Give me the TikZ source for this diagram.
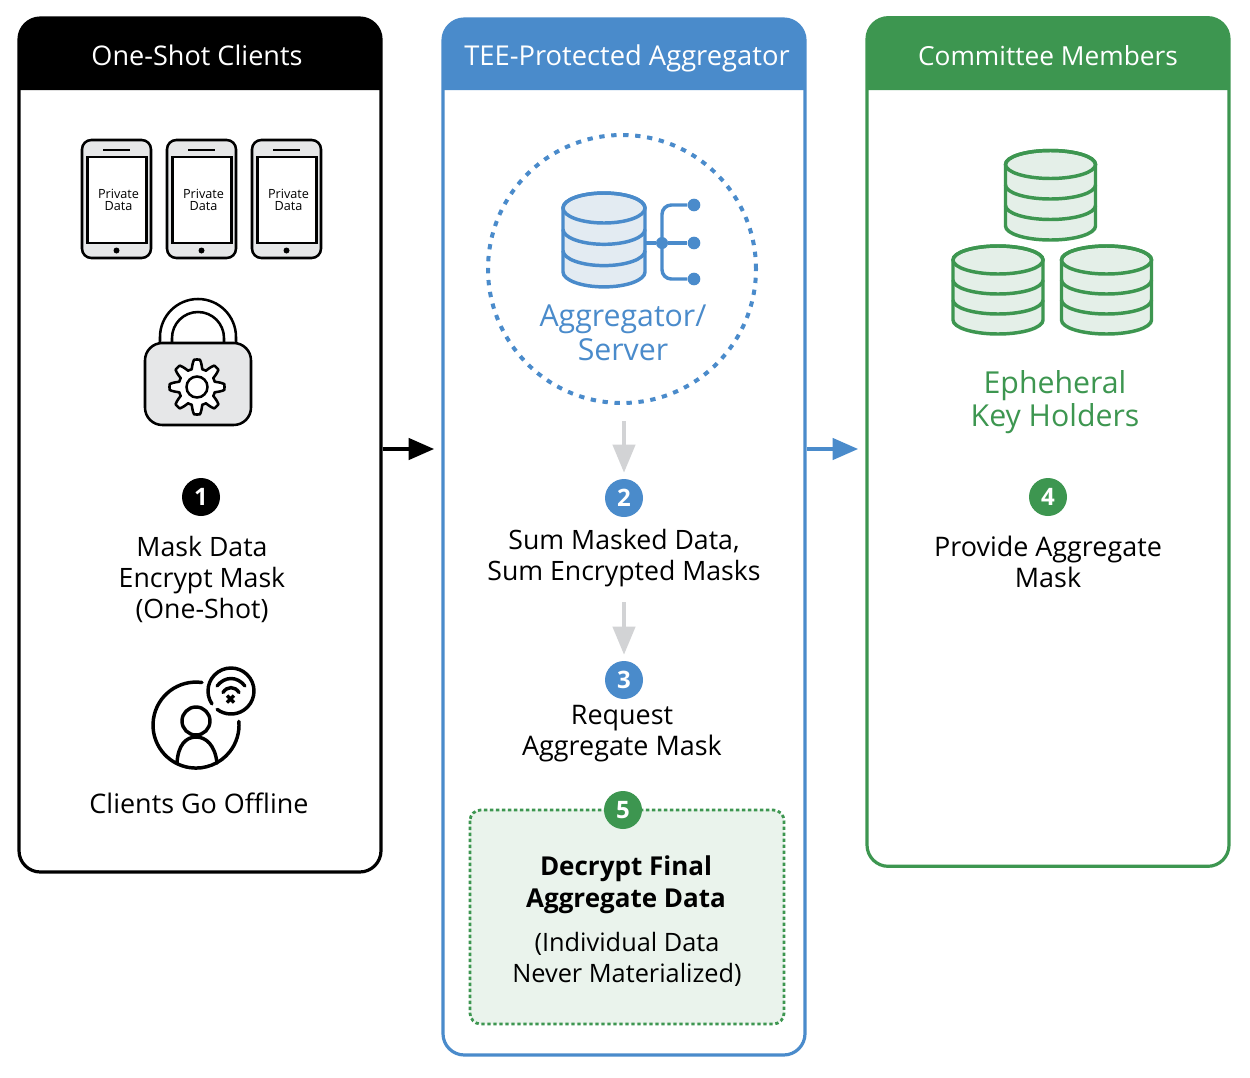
\documentclass[tikz,border=0pt]{standalone}
\usepackage{fontspec}
\setmainfont{Open Sans}
\usetikzlibrary{arrows.meta}
\definecolor{cblue}{HTML}{4A8BCB}
\definecolor{cgreen}{HTML}{3D9650}
\definecolor{cgreenpale}{HTML}{E4EFE8}
\definecolor{cbluepale}{HTML}{E3EBF2}
\definecolor{cgreenbox}{HTML}{EAF3EC}
\definecolor{cgrayfill}{HTML}{E6E7E8}
\definecolor{carrowgray}{HTML}{D2D3D5}
\tikzset{
  panel/.style={draw=#1,line width=2.4pt,rounded corners=16pt,fill=white,minimum width=271.5pt,inner sep=0pt},
  headtext/.style={text=white,font=\fontsize{20.3}{23}\selectfont,inner sep=0pt,anchor=base},
  body/.style={align=center,inner sep=0pt,font=\fontsize{20}{23.25}\selectfont},
  badge/.style={circle,fill=#1,text=white,inner sep=0pt,minimum size=28.5pt,font=\fontsize{18}{20}\bfseries\selectfont},
  icontxt/.style={align=center,inner sep=0pt,font=\fontsize{22.7}{25.2}\selectfont,text=#1},
  flow/.style={draw=#1,line width=2.4pt,-{Triangle[length=19pt,width=16pt]},shorten >=5.5pt},
  down/.style={draw=carrowgray,line width=3pt,-{Triangle[length=21pt,width=16.5pt]},shorten >=4.5pt},
  ink/.style={draw=black,line width=1.9pt},
  thick ink/.style={draw=black,line width=2.6pt,line cap=round},
  link/.style={draw=cblue,line width=2.6pt},
}
\newcommand{\drawphone}[1]{%
  \draw[ink,fill=cgrayfill,rounded corners=7pt] (#1+1,140) rectangle ++(69,118);
  \draw[ink,fill=white] (#1+6.5,157) rectangle ++(59,86);
  \draw[ink] (#1+22,150) -- ++(27,0);
  \fill (#1+35.5,250.5) circle[radius=3];
}
\newcommand{\drawcyl}[6]{%
  \draw[draw=#6,line width=2.6pt,fill=#6pale,line join=round]
    (#1-#3,#2) -- (#1-#3,#2+3*#5) arc[start angle=180,end angle=0,x radius=#3,y radius=#4]
    -- (#1+#3,#2) arc[start angle=0,end angle=-180,x radius=#3,y radius=#4] -- cycle;
  \draw[draw=#6,line width=2.6pt] (#1,#2) ellipse[x radius=#3,y radius=#4];
  \draw[draw=#6,line width=2.6pt] (#1-#3,#2+#5) arc[start angle=180,end angle=0,x radius=#3,y radius=#4];
  \draw[draw=#6,line width=2.6pt] (#1-#3,#2+2*#5) arc[start angle=180,end angle=0,x radius=#3,y radius=#4];
}
\begin{document}
\begin{tikzpicture}[x=0.75pt,y=-0.75pt]
\useasboundingbox (0,0) rectangle (1250,1078);
% panels
\node[panel=black,minimum height=640.5pt] (p1) at (200,445) {};
\node[panel=cblue,minimum height=777pt] (p2) at (624,537) {};
\node[panel=cgreen,minimum height=636.5pt] (p3) at (1048,442) {};
% headers
\fill[black] (19,90) {[rounded corners=16pt] -- (19,18) -- (381,18)} -- (381,90) -- cycle;
\fill[cblue] (443,90) {[rounded corners=16pt] -- (443,19) -- (805,19)} -- (805,90) -- cycle;
\fill[cgreen] (867,90) {[rounded corners=16pt] -- (867,18) -- (1229,18)} -- (1229,90) -- cycle;
\node[headtext] (h1) at (197,65.5) {One-Shot Clients};
\node[headtext,font=\fontsize{20.5}{23}\selectfont] (h2) at (627,65.5) {TEE-Protected Aggregator};
\node[headtext,font=\fontsize{19.7}{23}\selectfont] (h3) at (1048,65.5) {Committee Members};
% flow arrows
\coordinate (flowy) at (0,449);
\draw[flow=black] (p1.east |- flowy) -- (p2.west |- flowy);
\draw[flow=cblue] (p2.east |- flowy) -- (p3.west |- flowy);
% phones
\drawphone{81}\drawphone{166}\drawphone{251}
\foreach \n/\x in {a/118.5,b/203.5,c/288.5}
  \node[align=center,inner sep=0pt,font=\fontsize{9.5}{9}\selectfont] (pd\n) at (\x,199.5) {Private\\Data};
% lock
\draw[ink,fill=white] (160,345) -- (160,337) arc[start angle=180,end angle=360,radius=38] -- (236,345);
\draw[ink] (172,345) -- (172,338) arc[start angle=180,end angle=360,radius=26] -- (224,345);
\draw[ink,fill=cgrayfill,rounded corners=13pt] (145,343) rectangle (251,425);
\begin{scope}[shift={(197,387)}]
\draw[ink,fill=white,line join=round] plot[domain=0:360,samples=241,smooth] (\x:{23+4.5*max(min(1.5*cos(8*\x),1),-1)}) -- cycle;
\draw[ink,fill=white] (0,0) circle[radius=10.5];
\end{scope}
% step 1
\node[badge=black] (b1) at (201,497) {1};
\node[body] (t1) at (202,579) {Mask Data\\Encrypt Mask\\(One-Shot)};
% offline icon
\draw[thick ink] (202,682.5) arc[start angle=278,end angle=-5,radius=43];
\draw[thick ink] (196,721) circle[radius=14];
\draw[thick ink] (177,763) .. controls (178,745) and (186,737) .. (196,737) .. controls (206,737) and (215,745) .. (217,763);
\draw[thick ink] (231,691) ++(146:23) arc[start angle=146,end angle=487,radius=23];
\draw[thick ink] (217,686) .. controls (225,676) and (237,676) .. (245,686);
\draw[thick ink] (223,692.5) .. controls (227,686) and (235,686) .. (239,692.5);
\draw[draw=black,line width=2.6pt] (227,695.5) -- (234,702.5) (234,695.5) -- (227,702.5);
\node[body,font=\fontsize{20.2}{23.25}\selectfont] (t1b) at (199,803) {Clients Go Offline};
% aggregator icon
\node[circle,draw=cblue,line width=3pt,dash pattern=on 4pt off 5pt,minimum size=201pt,inner sep=0pt] (srv) at (622,269) {};
\drawcyl{604}{208}{41}{15}{21.3}{cblue}
\node[circle,fill=cblue,minimum size=9pt,inner sep=0pt] (hub) at (662,243) {};
\node[circle,fill=cblue,minimum size=9.5pt,inner sep=0pt] (da) at (694,205) {};
\node[circle,fill=cblue,minimum size=9.5pt,inner sep=0pt] (db) at (694,243) {};
\node[circle,fill=cblue,minimum size=9.5pt,inner sep=0pt] (dc) at (694,279) {};
\coordinate (cylr) at (645,243);
\draw[link] (cylr) -- (hub) -- (db);
\draw[link,rounded corners=7pt] (da) -- (hub |- da) -- (hub |- dc) -- (dc);
\node[icontxt=cblue] (tsrv) at (623,333) {Aggregator/\\Server};
% arrows down
\coordinate (g1) at (624,421);
\coordinate (g2) at (624,602);
\node[badge=cblue] (b2) at (624,498) {2};
\node[badge=cblue] (b3) at (624,680) {3};
\draw[down] (g1) -- (b2.north);
\draw[down] (g2) -- (b3.north);
\node[body] (t2) at (624,558) {Sum Masked Data,\\Sum Encrypted Masks};
\node[body,font=\fontsize{20.2}{23.25}\selectfont] (t3) at (622,733.5) {Request\\Aggregate Mask};
% decrypt box
\draw[draw=cgreen,fill=cgreenbox,line width=2.1pt,dash pattern=on 2.5pt off 2pt,rounded corners=8pt] (470,810) rectangle (784,1024);
\node[badge=cgreen] (b5) at (623,810) {5};
\node[body,font=\fontsize{19.5}{24}\bfseries\selectfont] (t5a) at (626,885) {Decrypt Final\\Aggregate Data};
\node[body,font=\fontsize{19}{23.25}\selectfont] (t5b) at (627,959) {(Individual Data\\Never Materialized)};
% committee
\drawcyl{1050.5}{164.5}{45}{14}{20.5}{cgreen}
\drawcyl{998}{260}{45}{14}{20}{cgreen}
\drawcyl{1106.5}{260}{45}{14}{20}{cgreen}
\node[icontxt=cgreen] (tkey) at (1055,402) {Epheheral\\Key Holders};
\node[badge=cgreen] (b4) at (1048,497) {4};
\node[body,font=\fontsize{20.2}{23.25}\selectfont] (t4) at (1048,562) {Provide Aggregate\\Mask};
\end{tikzpicture}
\end{document}
